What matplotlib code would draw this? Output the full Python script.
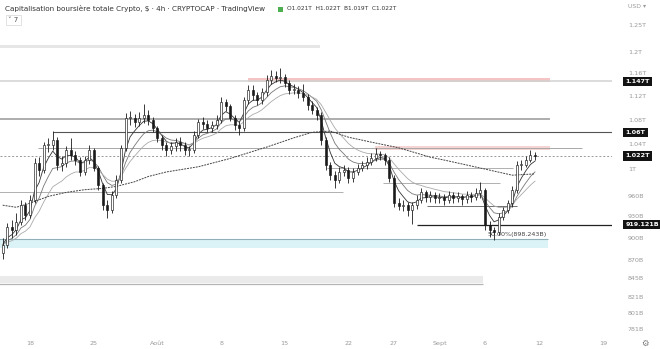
import numpy as np
import pandas as pd
import matplotlib
matplotlib.use('Agg')
import matplotlib.pyplot as plt
import matplotlib.dates as mdates
from matplotlib.ticker import NullLocator
from matplotlib.patches import Rectangle

start = pd.Timestamp('2022-07-15 00:00')
first_open = 880
closes = [891, 915, 911, 923, 947, 933, 955, 1011, 1000, 1039,
          1039, 1047, 1008, 1011, 1031, 1023, 1016, 997, 1016, 1031,
          1003, 977, 947, 940, 962, 985, 1034, 1084, 1084, 1077,
          1084, 1089, 1080, 1067, 1051, 1039, 1031, 1037, 1044, 1039,
          1031, 1031, 1056, 1077, 1074, 1067, 1072, 1080, 1111, 1104,
          1084, 1072, 1067, 1114, 1132, 1123, 1114, 1128, 1149, 1156,
          1153, 1154, 1144, 1132, 1132, 1126, 1119, 1106, 1097, 1089,
          1047, 1008, 992, 985, 997, 1000, 988, 997, 1003, 1008,
          1013, 1019, 1025, 1023, 1016, 988, 950, 946, 947, 940,
          947, 955, 966, 959, 962, 958, 959, 955, 962, 958,
          960, 956, 962, 959, 965, 970, 919, 911, 909, 930,
          940, 950, 970, 1008, 1008, 1016, 1023, 1022]
highs = [900, 922, 925, 935, 955, 952, 962, 1018, 1020, 1045,
         1050, 1062, 1052, 1022, 1038, 1050, 1030, 1020, 1022, 1040,
         1035, 1006, 980, 955, 968, 992, 1040, 1092, 1095, 1090,
         1094, 1108, 1098, 1085, 1070, 1055, 1044, 1045, 1050, 1052,
         1044, 1038, 1062, 1082, 1085, 1080, 1078, 1088, 1120, 1116,
         1108, 1088, 1078, 1120, 1140, 1140, 1128, 1135, 1158, 1168,
         1165, 1170, 1160, 1150, 1142, 1138, 1143, 1124, 1112, 1102,
         1094, 1052, 1012, 998, 1004, 1008, 1005, 1003, 1010, 1014,
         1020, 1026, 1034, 1030, 1026, 1020, 992, 958, 955, 952,
         952, 962, 972, 970, 968, 966, 965, 964, 968, 966,
         966, 964, 968, 966, 972, 982, 972, 924, 916, 935,
         945, 955, 975, 1014, 1016, 1022, 1032, 1028]
lows = [872, 886, 900, 905, 918, 925, 928, 950, 990, 995,
        1028, 1032, 1000, 998, 1005, 1015, 1008, 990, 992, 1010,
        998, 970, 940, 928, 935, 958, 980, 1030, 1072, 1068,
        1070, 1076, 1072, 1060, 1044, 1032, 1022, 1025, 1030, 1030,
        1024, 1022, 1026, 1050, 1066, 1060, 1060, 1066, 1076, 1095,
        1078, 1064, 1055, 1062, 1108, 1115, 1106, 1108, 1122, 1142,
        1145, 1144, 1136, 1125, 1124, 1118, 1112, 1098, 1090, 1080,
        1040, 1000, 985, 972, 980, 990, 980, 982, 992, 998,
        1002, 1008, 1014, 1015, 1008, 982, 944, 940, 938, 932,
        920, 942, 950, 952, 952, 950, 950, 948, 950, 950,
        952, 948, 950, 952, 954, 958, 912, 902, 898, 905,
        925, 935, 945, 965, 1000, 1004, 1012, 1016]

ma_long_idx = [0, 3, 6, 10, 14, 18, 22, 25, 29, 32, 36, 43, 50, 58, 64, 68,
               72, 76, 81, 87, 94, 98, 105, 112, 117]
ma_long_val = [947, 944, 950, 960, 966, 970, 972, 975, 982, 990, 997, 1005,
               1018, 1036, 1051, 1060, 1062, 1052, 1044, 1035, 1020, 1014,
               1003, 992, 994]

# niveaux tracés : (prix, début, fin)
grey_levels = [
    (1147, '2022-07-14', '2022-09-20', '#d2d2d2', 1.1),
    (1082, '2022-07-14', '2022-09-13 03:00', '#a0a0a0', 1.2),
    (1060, '2022-07-20 13:00', '2022-09-20', '#555555', 0.8),
    (1035, '2022-07-18 21:00', '2022-09-16 16:00', '#a8a8a8', 0.7),
    (1003, '2022-08-19 15:00', '2022-09-09 02:00', '#b0b0b0', 0.7),
    (980, '2022-08-25 19:00', '2022-09-07 15:00', '#b0b0b0', 0.7),
    (966, '2022-07-14', '2022-08-21 10:00', '#b0b0b0', 0.7),
    (946, '2022-08-30 15:00', '2022-09-09 12:00', '#707070', 0.7),
    (919.121, '2022-08-29 12:00', '2022-09-20', '#222222', 0.9),
    (898.243, '2022-07-14', '2022-09-12 22:00', '#8fb0b8', 0.8),
]
bands = [
    (1207, 1213, '2022-07-14', '2022-08-18 21:00', '#e6e6e6'),
    (1145, 1153, '2022-08-10 23:00', '2022-09-13 03:00', '#f4c4c4'),
    (1032, 1037, '2022-08-24 22:00', '2022-09-13 03:00', '#f6d4d4'),
    (886, 897, '2022-07-14', '2022-09-12 22:00', '#dbf3f7'),
    (840, 849, '2022-07-14', '2022-09-05 19:00', '#eaeaea'),
]
current_price = 1022

price_ticks = [1250, 1200, 1160, 1120, 1080, 1040, 1000, 960, 930, 900,
               870, 845, 821, 801, 781]
price_tick_labels = ['1.25T', '1.2T', '1.16T', '1.12T', '1.08T', '1.04T', '1T',
                     '960B', '930B', '900B', '870B', '845B', '821B', '801B', '781B']
flag_prices = [1147, 1060, 1022, 919.121]
flag_labels = ['1.147T', '1.06T', '1.022T', '919.121B']

date_ticks = ['2022-07-18', '2022-07-25', '2022-08-01', '2022-08-08', '2022-08-15',
              '2022-08-22', '2022-08-27', '2022-09-01', '2022-09-06', '2022-09-12',
              '2022-09-19']
date_labels = ['18', '25', 'Août', '8', '15', '22', '27', 'Sept', '6', '12', '19']


def dnum(d):
    return mdates.date2num(pd.Timestamp(d))


# ------------------------------------------------------------------
fig = plt.figure(figsize=(6.6, 3.49), dpi=100)
ax = fig.add_axes([0, 11 / 349, 612 / 660, 338 / 349])
ax.set_yscale('log')

ref = pd.Timestamp('2022-07-18')
ax.set_xlim(dnum(ref - pd.Timedelta(days=3.297)), dnum(ref + pd.Timedelta(days=63.96)))
ax.set_ylim(771.3, 1300.5)

dates = start + pd.to_timedelta(np.arange(len(closes)) * 12, unit='h')
xs = mdates.date2num(dates)
opens = [first_open] + closes[:-1]

# zones et niveaux
for lo, hi, d0, d1, col in bands:
    ax.fill_between([dnum(d0), dnum(d1)], lo, hi, color=col, lw=0, zorder=1)
ax.hlines(838.5, dnum('2022-07-14'), dnum('2022-09-05 19:00'), color='#b5b5b5', lw=0.9, zorder=1)
for p, d0, d1, col, lw in grey_levels:
    ax.hlines(p, dnum(d0), dnum(d1), color=col, lw=lw, zorder=2)
ax.axhline(current_price, color='#999999', lw=0.7, ls=(0, (2, 2)), zorder=2)
ax.text(dnum('2022-09-12 20:00'), 905, '50.00%(898.243B)',
        ha='right', va='center', fontsize=4.6, color='#444444', zorder=3)

# moyennes mobiles
s = pd.Series(closes)
ema_colors = ['#333333', '#777777', '#aaaaaa']
for span, col in zip([4, 8, 14], ema_colors):
    ax.plot(xs, s.ewm(span=span, adjust=False).mean(), color=col, lw=0.6, zorder=3)
ax.plot(xs[ma_long_idx], ma_long_val, color='#444444', lw=0.7, ls=(0, (2, 1)), zorder=3)

# bougies
width = 0.22
for xi, o, h, l, c in zip(xs, opens, highs, lows, closes):
    ax.vlines(xi, l, h, color='#1a1a1a', lw=0.6, zorder=4)
    bottom, top = min(o, c), max(o, c)
    if top - bottom < 1.5:
        top = bottom + 1.5
    fc = 'white' if c >= o else '#1a1a1a'
    ax.bar(xi, top - bottom, bottom=bottom, width=width, color=fc,
           edgecolor='#1a1a1a', lw=0.45, zorder=5)

ax.set_xticks([])
ax.set_yticks([])
ax.yaxis.set_minor_locator(NullLocator())
ax.xaxis.set_minor_locator(NullLocator())
for sp in ax.spines.values():
    sp.set_visible(False)

# échelle de prix à droite
ytr = ax.get_yaxis_transform()
for p, lab in zip(price_ticks, price_tick_labels):
    ax.text(1.026, p, lab, transform=ytr, fontsize=4.6, color='#9a9a9a',
            ha='left', va='center', clip_on=False)
for p, lab in zip(flag_prices, flag_labels):
    ax.text(1.022, p, lab, transform=ytr, fontsize=4.6, color='white',
            ha='left', va='center', fontweight='bold', clip_on=False, zorder=10,
            bbox=dict(boxstyle='square,pad=0.35', fc='#131313', ec='none'))
fig.text(628 / 660, 1 - 7 / 349, 'USD ▾', fontsize=4.4, color='#9a9a9a',
         ha='left', va='center')

# axe des dates
xtr = ax.get_xaxis_transform()
for d, lab in zip(date_ticks, date_labels):
    ax.text(dnum(d), -0.015, lab, transform=xtr,
            fontsize=4.6, color='#9a9a9a', ha='center', va='center', clip_on=False)
fig.text(645 / 660, 1 - 343 / 349, '⚙', fontsize=6, color='#777777',
         ha='center', va='center')

# en-tête
fig.text(5 / 660, 1 - 9 / 349,
         'Capitalisation boursière totale Crypto, $ · 4h · CRYPTOCAP · TradingView',
         fontsize=5.2, color='#333333', ha='left', va='center')
fig.patches.append(Rectangle((278 / 660, 1 - 12 / 349), 5 / 660, 5 / 349,
                             transform=fig.transFigure, fc='#4caf50', ec='none'))
fig.text(287 / 660, 1 - 9 / 349, 'O1.021T  H1.022T  B1.019T  C1.022T',
         fontsize=4.2, color='#333333', ha='left', va='center')
fig.text(8 / 660, 1 - 20 / 349, '˅ 7', fontsize=5, color='#555555',
         ha='left', va='center',
         bbox=dict(boxstyle='square,pad=0.35', fc='white', ec='#dddddd', lw=0.6))

fig.savefig('out.png', dpi=100, facecolor='white')
